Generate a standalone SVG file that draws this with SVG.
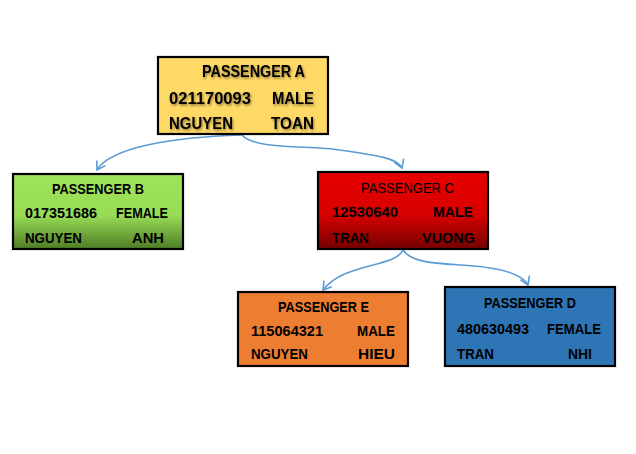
<svg xmlns="http://www.w3.org/2000/svg" width="636" height="454" viewBox="0 0 636 454">
<style>
.box{stroke:#000;stroke-width:2.2}
text{font-family:"Liberation Sans",Arial,sans-serif;font-weight:bold;font-size:15.5px;fill:#000}
.big{font-size:16.5px}
.reg{font-weight:normal}
.conn{fill:none;stroke:#5B9BD5;stroke-width:1.6}
</style>
<defs>
<linearGradient id="gB" x1="0" y1="0" x2="0" y2="1">
<stop offset="0" stop-color="#9FE35B"/><stop offset="0.55" stop-color="#98DC55"/><stop offset="1" stop-color="#4F7D25"/>
</linearGradient>
<linearGradient id="gC" x1="0" y1="0" x2="0" y2="1">
<stop offset="0" stop-color="#E60000"/><stop offset="0.55" stop-color="#D80000"/><stop offset="1" stop-color="#750000"/>
</linearGradient>
<filter id="sh" x="-10%" y="-30%" width="120%" height="160%">
<feDropShadow dx="1" dy="1.5" stdDeviation="1.2" flood-color="#000" flood-opacity="0.45"/>
</filter>
<marker id="arr" markerWidth="12" markerHeight="12" refX="10" refY="6" orient="auto" markerUnits="userSpaceOnUse">
<polyline points="2,1 10,6 2,11" fill="none" stroke="#5B9BD5" stroke-width="1.6"/>
</marker>
</defs>
<g id="connectors">
<path class="conn" d="M242,135 C170,137 110,148 97,170" marker-end="url(#arr)"/>
<path class="conn" d="M242,135 C255,150 310,145 340,150 C375,155 398,158 402,168" marker-end="url(#arr)"/>
<path class="conn" d="M403,250 C395,268 345,262 323,290" marker-end="url(#arr)"/>
<path class="conn" d="M403,250 C415,268 460,262 490,268 C515,272 525,278 528,285" marker-end="url(#arr)"/>
</g>
<g id="passengerA">
<rect class="box" x="158" y="57" width="170" height="77" fill="#FFD966"/>
<g filter="url(#sh)">
<text class="big" x="202" y="77" textLength="103" lengthAdjust="spacingAndGlyphs">PASSENGER A</text>
<text class="big" x="169" y="104" textLength="82" lengthAdjust="spacingAndGlyphs">021170093</text>
<text class="big" x="272" y="104" textLength="42" lengthAdjust="spacingAndGlyphs">MALE</text>
<text class="big" x="169" y="129" textLength="64" lengthAdjust="spacingAndGlyphs">NGUYEN</text>
<text class="big" x="271" y="129" textLength="43" lengthAdjust="spacingAndGlyphs">TOAN</text>
</g>
</g>
<g id="passengerB">
<rect class="box" x="13" y="174" width="170" height="75" fill="url(#gB)"/>
<text x="52" y="194" textLength="92" lengthAdjust="spacingAndGlyphs">PASSENGER B</text>
<text x="25" y="218" textLength="72" lengthAdjust="spacingAndGlyphs">017351686</text>
<text x="116" y="218" textLength="52" lengthAdjust="spacingAndGlyphs">FEMALE</text>
<text x="25" y="243" textLength="57" lengthAdjust="spacingAndGlyphs">NGUYEN</text>
<text x="132" y="243" textLength="32" lengthAdjust="spacingAndGlyphs">ANH</text>
</g>
<g id="passengerC">
<rect class="box" x="318" y="172" width="170" height="77" fill="url(#gC)"/>
<text class="reg" x="361" y="193" textLength="93" lengthAdjust="spacingAndGlyphs" fill="#1a0000">PASSENGER C</text>
<text x="332" y="217" textLength="66" lengthAdjust="spacingAndGlyphs">12530640</text>
<text x="433" y="217" textLength="40" lengthAdjust="spacingAndGlyphs">MALE</text>
<text x="332" y="243" textLength="37" lengthAdjust="spacingAndGlyphs">TRAN</text>
<text x="422" y="243" textLength="53" lengthAdjust="spacingAndGlyphs">VUONG</text>
</g>
<g id="passengerE">
<rect class="box" x="238" y="292" width="170" height="74" fill="#ED7D31"/>
<text x="278" y="312" textLength="91" lengthAdjust="spacingAndGlyphs">PASSENGER E</text>
<text x="251" y="336" textLength="72" lengthAdjust="spacingAndGlyphs">115064321</text>
<text x="357" y="336" textLength="38" lengthAdjust="spacingAndGlyphs">MALE</text>
<text x="251" y="359" textLength="57" lengthAdjust="spacingAndGlyphs">NGUYEN</text>
<text x="358" y="359" textLength="37" lengthAdjust="spacingAndGlyphs">HIEU</text>
</g>
<g id="passengerD">
<rect class="box" x="445" y="287" width="170" height="79" fill="#2E75B6"/>
<text x="484" y="308" textLength="92" lengthAdjust="spacingAndGlyphs">PASSENGER D</text>
<text x="457" y="334" textLength="72" lengthAdjust="spacingAndGlyphs">480630493</text>
<text x="547" y="334" textLength="54" lengthAdjust="spacingAndGlyphs">FEMALE</text>
<text x="457" y="359" textLength="37" lengthAdjust="spacingAndGlyphs">TRAN</text>
<text x="568" y="359" textLength="24" lengthAdjust="spacingAndGlyphs">NHI</text>
</g>
</svg>
